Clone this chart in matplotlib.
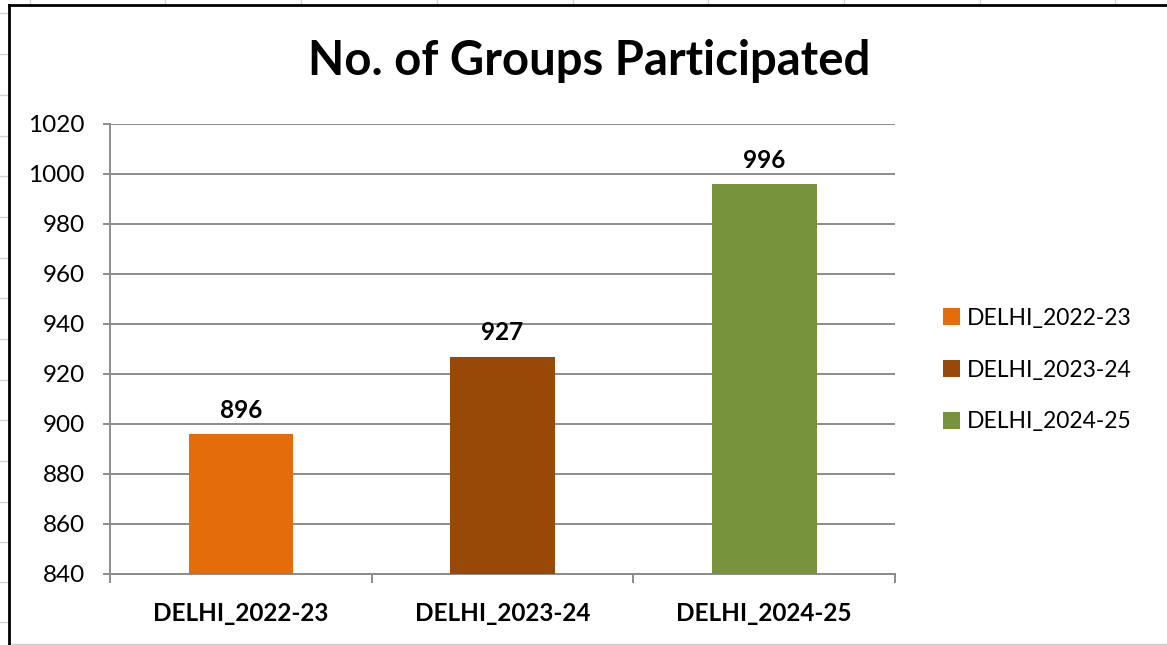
import matplotlib
matplotlib.use('Agg')
import matplotlib.pyplot as plt
from matplotlib.lines import Line2D
from matplotlib.patches import Patch

# chart data
categories = ['DELHI_2022-23', 'DELHI_2023-24', 'DELHI_2024-25']
values = [896, 927, 996]
colors = ['#E46C0A', '#984807', '#77933C']
y_ticks = list(range(840, 1021, 20))

W, H = 1167, 645
plt.rcParams['font.family'] = ['Lato', 'DejaVu Sans']

fig = plt.figure(figsize=(W / 100, H / 100), dpi=100)
fig.patch.set_facecolor('white')


def fx(x):
    return x / W


def fy(y):
    return 1 - y / H


# spreadsheet cells peeking out around the chart object
cell_cols = [30, 165, 301, 437, 573, 708, 844, 980, 1115]
cell_rows = [13, 54, 95, 136, 176, 217, 258, 298, 339, 380, 420, 461, 502, 542, 582, 622]
for cx in cell_cols:
    fig.add_artist(Line2D([fx(cx), fx(cx)], [fy(0), fy(4)], color='#d4d4d4', lw=1))
for cy in cell_rows:
    fig.add_artist(Line2D([fx(0), fx(7)], [fy(cy), fy(cy)], color='#d4d4d4', lw=1))
fig.add_artist(Line2D([fx(10), fx(W)], [fy(643.5), fy(643.5)], color='#d0d0d0', lw=1))

# chart border
fig.add_artist(Line2D([fx(8.5), fx(W)], [fy(5), fy(5)], color='black', lw=2.0,
                      solid_capstyle='projecting'))
fig.add_artist(Line2D([fx(8.5), fx(8.5)], [fy(5), fy(H)], color='black', lw=2.0,
                      solid_capstyle='projecting'))

ax = fig.add_axes([fx(110), fy(574), fx(895) - fx(110), fy(124) - fy(574)])

x = list(range(len(categories)))
bars = ax.bar(x, values, width=0.4, color=colors, zorder=3)

ax.set_xlim(-0.5, len(categories) - 0.5)
ax.set_ylim(840, 1020)
ax.set_yticks(y_ticks)
ax.grid(axis='y', color='#8c8c8c', lw=1.4, zorder=0)

grey = '#8c8c8c'
for side in ['top', 'right']:
    ax.spines[side].set_visible(False)
for side in ['left', 'bottom']:
    ax.spines[side].set_color(grey)
    ax.spines[side].set_linewidth(1.4)

ax.tick_params(axis='y', colors=grey, length=5, width=1.4, pad=13, labelsize=17.5,
               labelcolor='black')

# category borders as tick marks, names between them
ax.set_xticks([i - 0.5 for i in range(len(categories) + 1)])
ax.set_xticklabels([])
ax.set_xticks(x, minor=True)
ax.set_xticklabels(categories, minor=True, fontweight='bold', fontsize=17.5)
ax.tick_params(axis='x', which='major', colors=grey, length=6.5, width=1.4)
ax.tick_params(axis='x', which='minor', length=0, pad=20)

for xi, v in zip(x, values):
    ax.annotate(str(v), (xi, v), xytext=(0, 9), textcoords='offset points',
                ha='center', va='bottom', fontweight='bold', fontsize=17.5)

fig.text(fx(589), fy(61), 'No. of Groups Participated', ha='center', va='center',
         fontsize=34, fontweight='bold')

handles = [Patch(facecolor=c, edgecolor='none') for c in colors]
fig.legend(handles, categories, loc='center left', bbox_to_anchor=(fx(922), fy(370)),
           frameon=False, fontsize=16.5, handlelength=0.75, handleheight=0.75,
           handletextpad=0.3, labelspacing=1.35)

fig.savefig('out.png', dpi=100)
